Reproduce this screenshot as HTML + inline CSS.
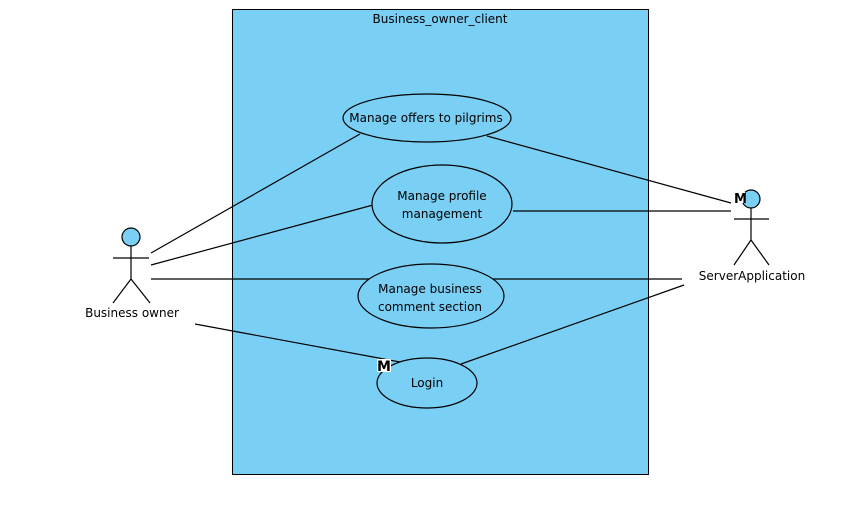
<!DOCTYPE html><html><head><style>body{margin:0;background:#fff}svg text{font-family:"DejaVu Sans",sans-serif;font-size:12px;fill:#000}</style></head><body>
<svg width="857" height="511" xmlns="http://www.w3.org/2000/svg">
<rect x="232.5" y="9.5" width="416" height="465" fill="#7acff5" stroke="#000"/>
<text x="440" y="23" text-anchor="middle">Business_owner_client</text>
<g stroke="#000" stroke-width="1.2" fill="none">
<line x1="151" y1="253" x2="360" y2="134"/>
<line x1="151" y1="265" x2="373" y2="205"/>
<line x1="151" y1="279" x2="370" y2="279"/>
<line x1="487" y1="136" x2="731" y2="203"/>
<line x1="513" y1="211" x2="731" y2="211"/>
<line x1="493" y1="279" x2="682" y2="279"/>
<line x1="461" y1="364" x2="684" y2="285"/>
<line x1="195" y1="324" x2="400" y2="362"/>
</g>
<g stroke="#000" stroke-width="1.2" fill="#7acff5">
<ellipse cx="427" cy="118" rx="84" ry="24"/>
<ellipse cx="442" cy="204" rx="70" ry="39"/>
<ellipse cx="431" cy="296" rx="73" ry="32"/>
<ellipse cx="427" cy="383" rx="50" ry="25"/>
</g>
<text x="426" y="122" text-anchor="middle">Manage offers to pilgrims</text>
<text x="442" y="200" text-anchor="middle">Manage profile</text>
<text x="442" y="218" text-anchor="middle">management</text>
<text x="430" y="293" text-anchor="middle">Manage business</text>
<text x="430" y="311" text-anchor="middle">comment section</text>
<text x="427" y="387" text-anchor="middle">Login</text>
<g stroke="#000" stroke-width="1.2" fill="none">
<circle cx="131" cy="237" r="9" fill="#7acff5"/>
<line x1="131" y1="246" x2="131" y2="279"/>
<line x1="113" y1="258" x2="149" y2="258"/>
<line x1="131" y1="279" x2="113" y2="303"/><line x1="131" y1="279" x2="150" y2="303"/>
<circle cx="751" cy="199" r="9" fill="#7acff5"/>
<line x1="751" y1="208" x2="751" y2="240"/>
<line x1="734" y1="219" x2="769" y2="219"/>
<line x1="751" y1="240" x2="734" y2="265"/><line x1="751" y1="240" x2="769" y2="265"/>
</g>
<text x="132" y="317" text-anchor="middle">Business owner</text>
<text x="752" y="280" text-anchor="middle">ServerApplication</text>
<rect x="735" y="192" width="10" height="11" fill="#fff"/>
<text x="734" y="203" style="font-weight:bold;font-size:13px">M</text>
<rect x="377" y="359" width="14" height="13" fill="#fff"/>
<text x="377" y="371" style="font-weight:bold;font-size:14px">M</text>
</svg></body></html>
